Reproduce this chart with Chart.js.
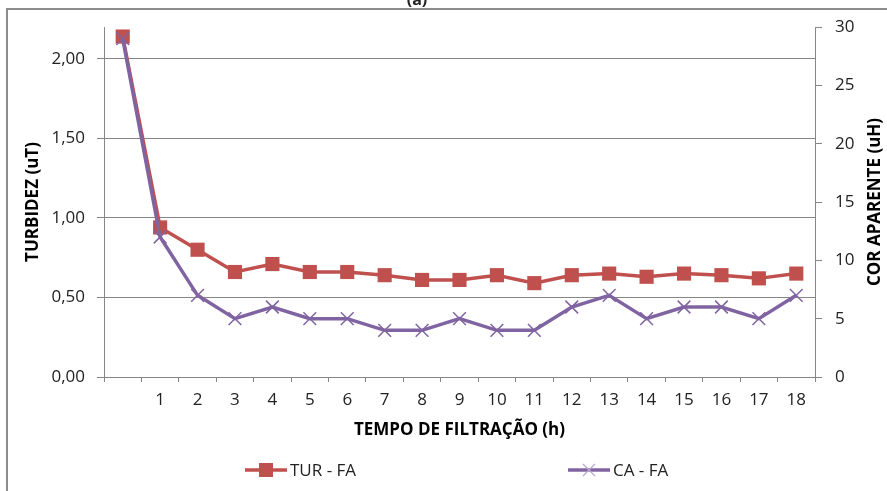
<!DOCTYPE html>
<html lang="pt">
<head>
  <meta charset="UTF-8" />
  <title>Turbidez e Cor Aparente</title>
  <script src="https://cdn.jsdelivr.net/npm/chart.js"></script>
  <style>
    html, body { margin: 0; padding: 0; background: #ffffff; }
    #wrap { position: relative; width: 887px; height: 491px; }
  </style>
</head>
<body>
  <div id="wrap">
    <canvas id="chart" width="887" height="491"></canvas>
  </div>

  <script>
    // categories (hours of filtration; first point is time zero, no label)
    const hours = ['', '1', '2', '3', '4', '5', '6', '7', '8', '9', '10',
                   '11', '12', '13', '14', '15', '16', '17', '18'];

    // turbidity (uT), left axis
    const turFA = [2.14, 0.94, 0.80, 0.66, 0.71, 0.66, 0.66, 0.64, 0.61, 0.61,
                   0.64, 0.59, 0.64, 0.65, 0.63, 0.65, 0.64, 0.62, 0.65];

    // apparent colour (uH), right axis
    const caFA = [29, 12, 7, 5, 6, 5, 5, 4, 4, 5, 4, 4, 6, 7, 5, 6, 6, 5, 7];

    const leftTicks = [0, 0.5, 1, 1.5, 2];
    const rightTicks = [0, 5, 10, 15, 20, 25, 30];

    const RED = '#C0504D';
    const PURPLE = '#8064A2';
    const GRAY = '#868686';
    const TXT = '#222222';
    const FONT = "'Open Sans', sans-serif";

    // frame, "(a)", right axis title and the legend
    const decor = {
      id: 'decor',
      beforeDraw(chart) {
        const ctx = chart.ctx;
        ctx.save();
        ctx.strokeStyle = '#8c8c8c';
        ctx.lineWidth = 2;
        ctx.strokeRect(7, 9, 2000, 2000);
        ctx.fillStyle = TXT;
        ctx.font = 'bold 16px ' + FONT;
        ctx.textAlign = 'center';
        ctx.textBaseline = 'alphabetic';
        ctx.fillText('(a)', 417, 5);
        ctx.restore();
      },
      afterDraw(chart) {
        const ctx = chart.ctx;
        ctx.save();
        // right axis title, reading upward
        ctx.translate(875, 202);
        ctx.rotate(-Math.PI / 2);
        ctx.fillStyle = '#000';
        ctx.font = 'bold 17px ' + FONT;
        ctx.textAlign = 'center';
        ctx.textBaseline = 'middle';
        ctx.fillText('COR APARENTE (uH)', 0, 0);
        ctx.restore();

        // legend
        const y = 470;
        const items = [
          { x: 245, color: RED, label: chart.data.datasets[0].label, mark: 'rect' },
          { x: 568, color: PURPLE, label: chart.data.datasets[1].label, mark: 'cross' }
        ];
        ctx.save();
        items.forEach(it => {
          ctx.strokeStyle = it.color;
          ctx.lineWidth = 3.5;
          ctx.beginPath();
          ctx.moveTo(it.x, y);
          ctx.lineTo(it.x + 42, y);
          ctx.stroke();
          const cx = it.x + 21;
          if (it.mark === 'rect') {
            ctx.fillStyle = it.color;
            ctx.fillRect(cx - 7, y - 7, 14, 14);
          } else {
            ctx.lineWidth = 1.2;
            ctx.strokeStyle = '#b9a7d1';
            ctx.beginPath();
            ctx.moveTo(cx - 6, y - 6); ctx.lineTo(cx + 6, y + 6);
            ctx.moveTo(cx + 6, y - 6); ctx.lineTo(cx - 6, y + 6);
            ctx.stroke();
          }
          ctx.fillStyle = TXT;
          ctx.font = '17px ' + FONT;
          ctx.textAlign = 'left';
          ctx.textBaseline = 'middle';
          ctx.fillText(it.label, it.x + 45, y + 1);
        });
        ctx.restore();
      }
    };

    new Chart(document.getElementById('chart'), {
      type: 'line',
      data: {
        labels: hours,
        datasets: [
          {
            label: 'TUR - FA',
            data: turFA,
            yAxisID: 'y',
            order: 1,
            borderColor: RED,
            backgroundColor: RED,
            borderWidth: 3.5,
            tension: 0,
            pointStyle: 'rect',
            pointRadius: 10,
            pointBorderWidth: 0,
            pointBackgroundColor: RED
          },
          {
            label: 'CA - FA',
            data: caFA,
            yAxisID: 'y1',
            order: 0,
            borderColor: PURPLE,
            backgroundColor: PURPLE,
            borderWidth: 3.5,
            tension: 0,
            pointStyle: 'crossRot',
            pointRadius: 9,
            pointBorderWidth: 1.5,
            pointBorderColor: PURPLE
          }
        ]
      },
      options: {
        responsive: false,
        animation: false,
        events: [],
        layout: { padding: { top: 27, left: 0, right: 0, bottom: 0 } },
        plugins: {
          legend: { display: false },
          tooltip: { enabled: false }
        },
        scales: {
          x: {
            type: 'category',
            offset: true,
            afterFit: s => { s.height = 114; },
            grid: { offset: true, drawOnChartArea: false, tickLength: 5, color: GRAY },
            border: { color: GRAY },
            ticks: {
              autoSkip: false, maxRotation: 0, padding: 8,
              color: TXT, font: { family: FONT, size: 17 }
            },
            title: {
              display: true,
              text: 'TEMPO DE FILTRAÇÃO (h)',
              color: '#000',
              font: { family: FONT, size: 17, weight: 'bold' },
              padding: { top: 0, bottom: 51 }
            }
          },
          y: {
            position: 'left',
            min: 0,
            max: 2.2,
            afterFit: s => { s.width = 104; },
            afterBuildTicks: s => { s.ticks = leftTicks.map(v => ({ value: v })); },
            grid: { color: GRAY, tickLength: 7 },
            border: { color: GRAY },
            ticks: {
              padding: 12, color: TXT, font: { family: FONT, size: 17 },
              callback: v => v.toFixed(2).replace('.', ',')
            },
            title: {
              display: true,
              text: 'TURBIDEZ (uT)',
              color: '#000',
              font: { family: FONT, size: 17, weight: 'bold' },
              padding: { top: 23, bottom: 0 }
            }
          },
          y1: {
            position: 'right',
            min: 0,
            max: 30,
            afterFit: s => { s.width = 72; },
            afterBuildTicks: s => { s.ticks = rightTicks.map(v => ({ value: v })); },
            grid: { drawOnChartArea: false, color: GRAY, tickLength: 7 },
            border: { color: GRAY },
            ticks: { padding: 13, color: TXT, font: { family: FONT, size: 17 } }
          }
        }
      },
      plugins: [decor]
    });
  </script>
</body>
</html>
